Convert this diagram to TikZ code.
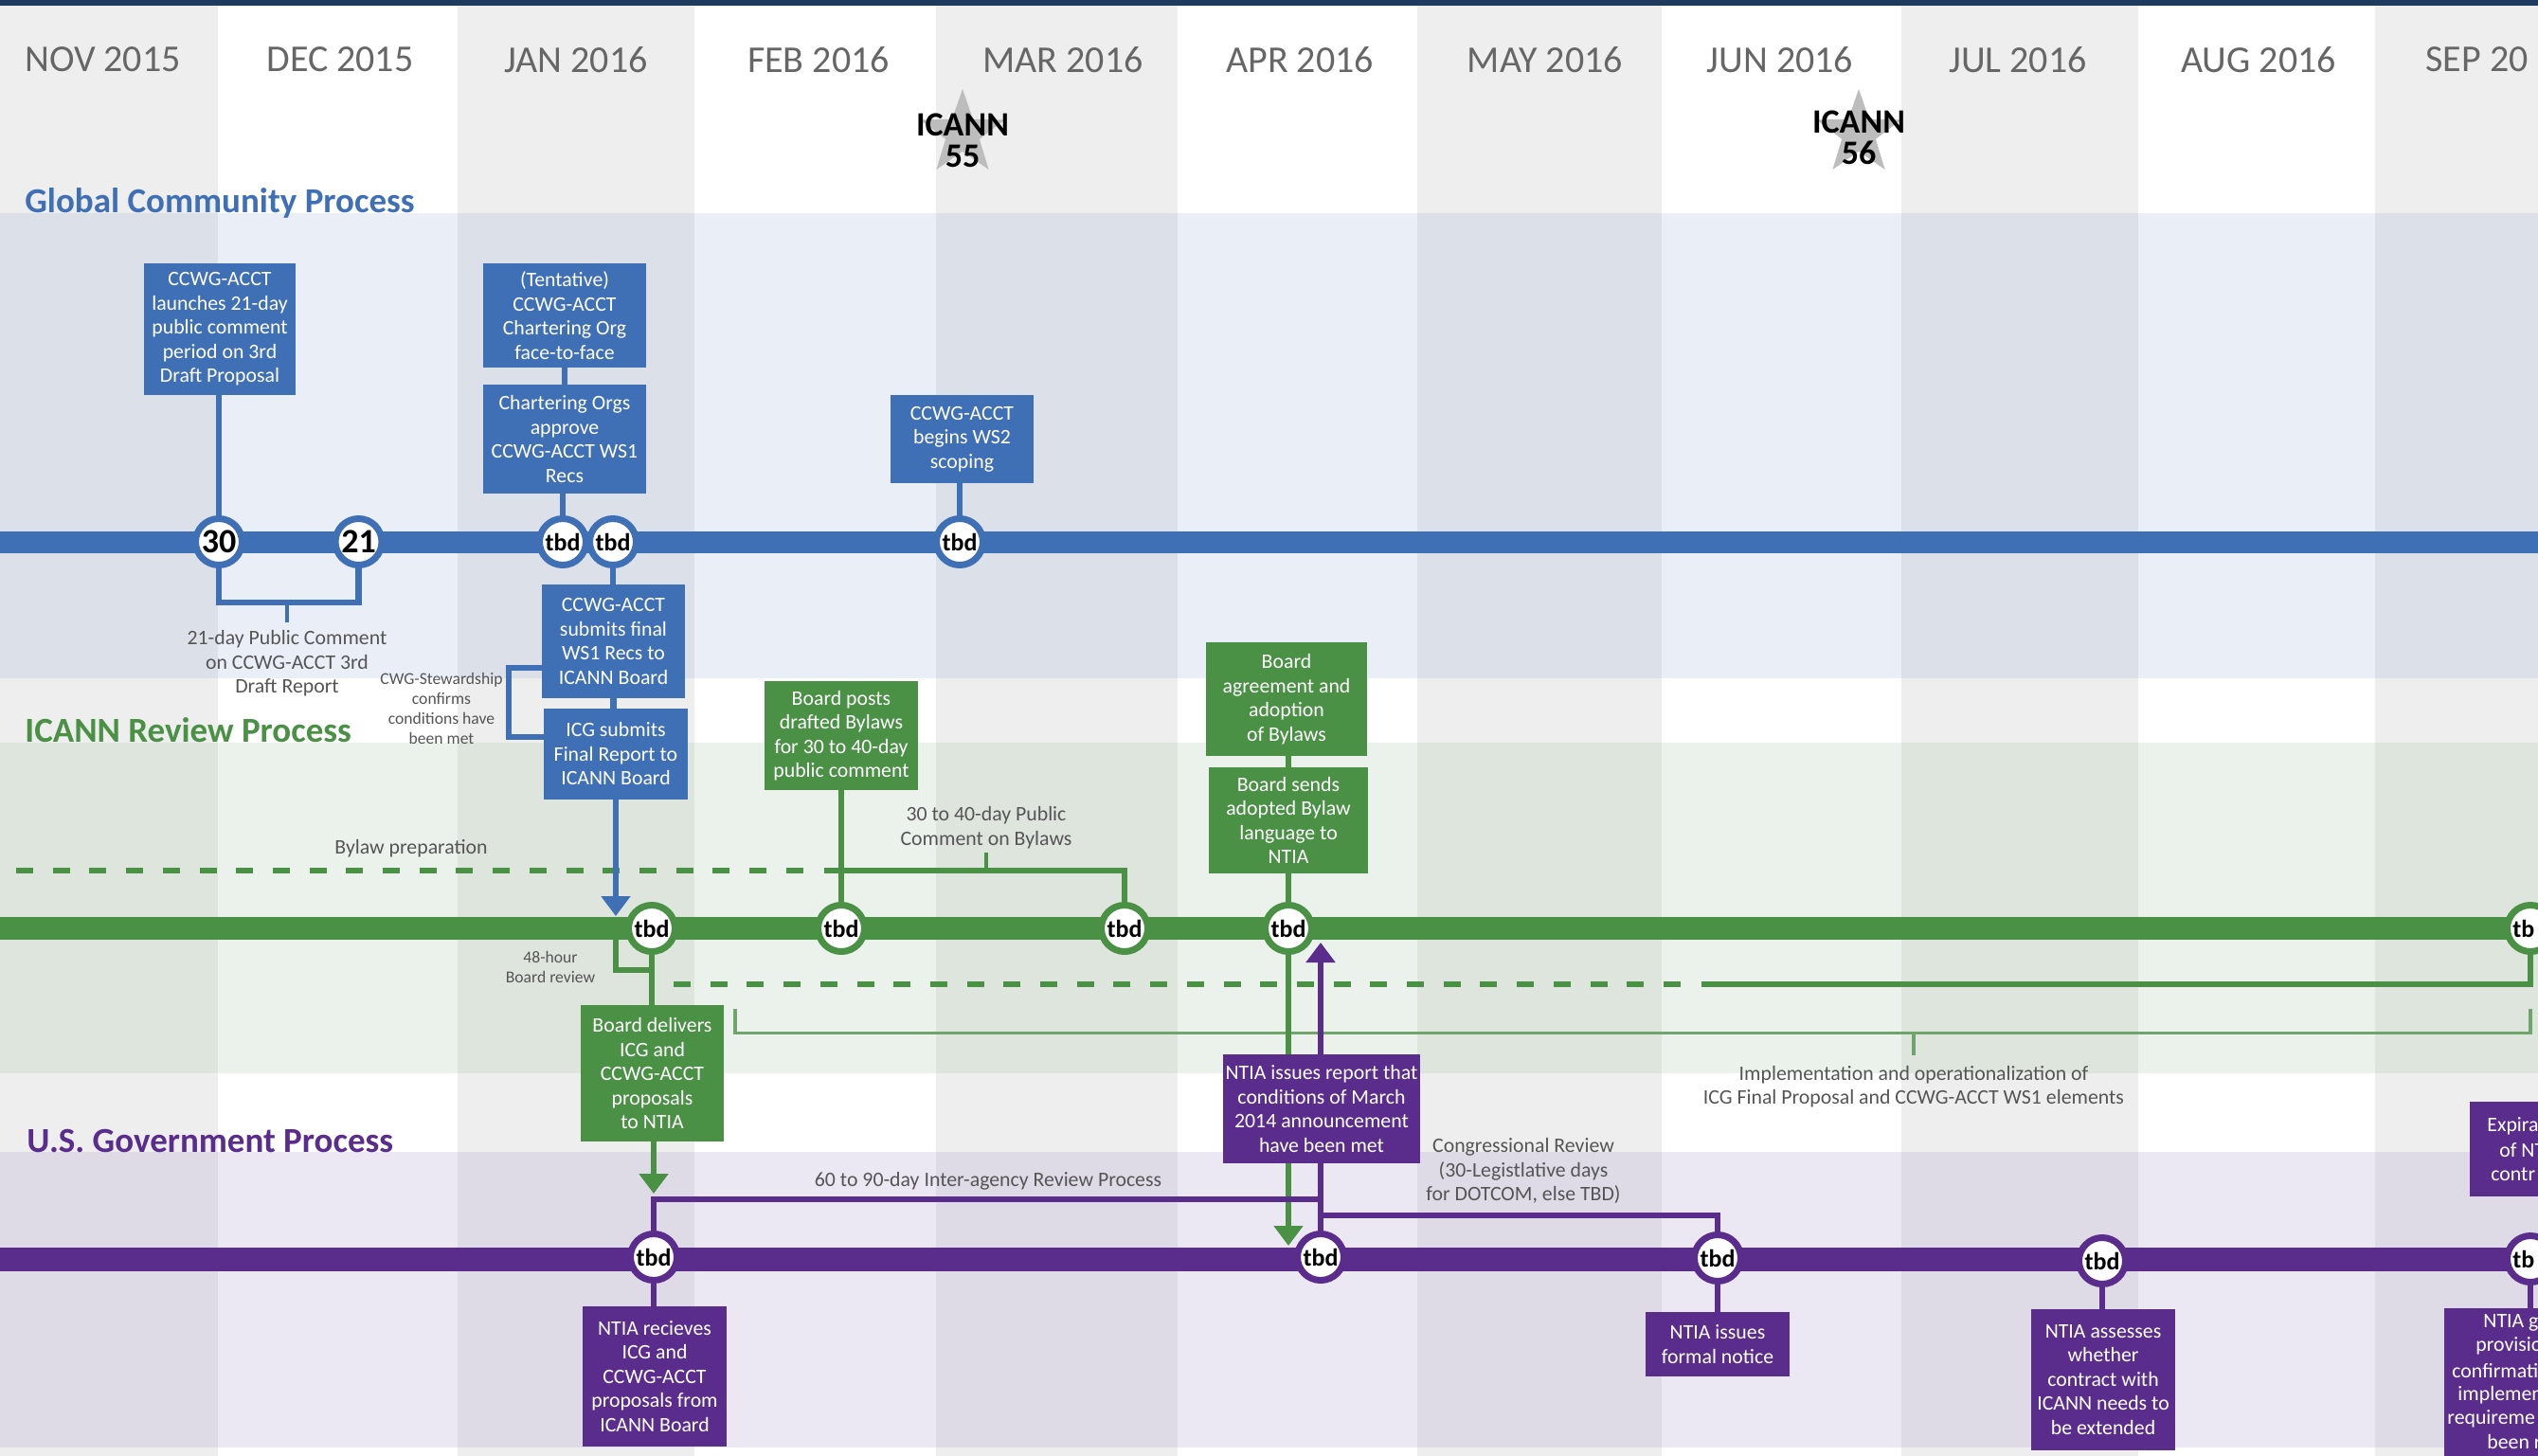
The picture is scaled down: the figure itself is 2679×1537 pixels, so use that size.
\documentclass[tikz,border=0pt]{standalone}
\usepackage{fontspec}
\setmainfont{Carlito}
\usetikzlibrary{arrows.meta,shapes.geometric,calc}
\pgfdeclarelayer{back}
\pgfdeclarelayer{conn}
\pgfsetlayers{back,conn,main}
\definecolor{cblue}{HTML}{3F6FB5}
\definecolor{cgreen}{HTML}{4A9045}
\definecolor{cpurple}{HTML}{5A2D8C}
\definecolor{cnavy}{HTML}{1F3A5F}
\definecolor{topgrey}{HTML}{EEEEEE}
\definecolor{bluew}{HTML}{E9EEF7}
\definecolor{blueg}{HTML}{DCE0E9}
\definecolor{greenw}{HTML}{EAF2EB}
\definecolor{greeng}{HTML}{DEE5DD}
\definecolor{purplew}{HTML}{ECE8F3}
\definecolor{purpleg}{HTML}{DEDBE6}
\definecolor{labelc}{HTML}{555555}
\definecolor{monthc}{HTML}{666666}
\definecolor{thingreen}{HTML}{6FA56B}
\tikzset{
  tl/.style={circle,draw=#1,fill=white,line width=3.5pt,minimum size=24.5pt,inner sep=0pt,outer sep=0pt,text=black,font=\bfseries\fontsize{13}{13}\selectfont},
  tlbig/.style={tl=#1,font=\bfseries\fontsize{18}{18}\selectfont},
  tltrim/.style={anchor=west,inner sep=0pt,text=black,font=\bfseries\fontsize{13}{13}\selectfont},
  boxn/.style={rectangle,fill=#1,inner sep=0pt,outer sep=0pt,align=center,text=white,font=\fontsize{10.9}{12.75}\selectfont},
  boxtrim/.style={anchor=west,inner sep=0pt,text=white,font=\fontsize{10.9}{12.75}\selectfont},
  lab/.style={align=center,inner sep=0pt,text=labelc,font=\fontsize{10.9}{12.75}\selectfont},
  labs/.style={align=center,inner sep=0pt,text=labelc,font=\fontsize{8.8}{10.5}\selectfont},
  month/.style={inner sep=0pt,text=monthc,font=\fontsize{20}{20}\selectfont},
  head/.style={anchor=west,inner sep=0pt,text=#1,font=\bfseries\fontsize{18.5}{18.5}\selectfont},
  mainline/.style={draw=#1,line width=11.5pt},
  conn/.style={draw=#1,line width=3.2pt},
  thin/.style={draw=#1,line width=1.6pt},
  dashgreen/.style={draw=cgreen,line width=3.4pt,dash pattern=on 9pt off 10.35pt},
  arr/.style={-{Triangle[width=15pt,length=10.5pt]}},
  icanntxt/.style={align=center,inner sep=0pt,text=black,font=\bfseries\fontsize{18}{16.5}\selectfont},
  icstar/.style={star,star points=5,star point ratio=2.5,fill=black!26,minimum size=47pt,inner sep=0pt,outer sep=0pt},
}
\newcommand{\Bx}[7]{%
  \pgfmathsetmacro{\bw}{(#5-#3)*0.5}%
  \pgfmathsetmacro{\bh}{(#6-#4)*0.5}%
  \node[boxn=#2,minimum width=\bw pt,minimum height=\bh pt] (#1) at ({(#3+#5)/2},{(#4+#6)/2}) {#7};%
}
\begin{document}
\begin{tikzpicture}[x=0.5pt,y=-0.5pt]
\useasboundingbox (0,0) rectangle (2679,1537);
\clip (0,0) rectangle (2679,1537);
\begin{pgfonlayer}{back}
  \fill[white] (0,0) rectangle (2679,1537);
  \fill[bluew] (0,225) rectangle (2679,716);
  \fill[greenw] (0,784) rectangle (2679,1133);
  \fill[purplew] (0,1216) rectangle (2679,1528);
  \foreach \a/\b in {0/230,483/733,988/1243,1496/1754,2007/2257,2507/2679}{
    \fill[topgrey] (\a,0) rectangle (\b,1537);
    \fill[blueg] (\a,225) rectangle (\b,716);
    \fill[greeng] (\a,784) rectangle (\b,1133);
    \fill[purpleg] (\a,1216) rectangle (\b,1528);
  }
  \fill[cnavy] (0,0) rectangle (2679,6);
\end{pgfonlayer}

% month labels
\node[month] (mnov) at (108.5,63) {NOV 2015};
\node[month] (mdec) at (359,63) {DEC 2015};
\node[month] (mjan) at (608,63) {JAN 2016};
\node[month] (mfeb) at (864,63) {FEB 2016};
\node[month] (mmar) at (1122,63) {MAR 2016};
\node[month] (mapr) at (1372,63) {APR 2016};
\node[month] (mmay) at (1631,63) {MAY 2016};
\node[month] (mjun) at (1879,63) {JUN 2016};
\node[month] (mjul) at (2130,63) {JUL 2016};
\node[month] (maug) at (2384,63) {AUG 2016};
\node[month,anchor=west] (msep) at (2560,63) {SEP 20};

% stars
\node[icstar] (s55) at (1016,141) {};
\node[icstar] (s56) at (1962,141) {};
\node[icanntxt] (t55) at (1016,148) {ICANN\\55};
\node[icanntxt] (t56) at (1962,145) {ICANN\\56};

% headings
\node[head=cblue] (hglobal) at (26,214) {Global Community Process};
\node[head=cgreen] (hicann) at (26,771) {ICANN Review Process};
\node[head=cpurple] (husg) at (28,1204) {U.S. Government Process};

% blue boxes
\Bx{b1}{cblue}{152}{278}{312}{417}{CCWG-ACCT\\launches 21-day\\public comment\\period on 3rd\\Draft Proposal}
\Bx{b2}{cblue}{510}{278}{682}{388}{(Tentative)\\CCWG-ACCT\\Chartering Org\\face-to-face}
\Bx{b3}{cblue}{510}{406}{682}{521}{Chartering Orgs\\approve\\CCWG-ACCT WS1\\Recs}
\Bx{b4}{cblue}{940}{417}{1091}{510}{CCWG-ACCT\\begins WS2\\scoping}
\Bx{b5}{cblue}{572}{617}{723}{737}{CCWG-ACCT\\submits final\\WS1 Recs to\\ICANN Board}
\Bx{b6}{cblue}{574}{748}{726}{844}{ICG submits\\Final Report to\\ICANN Board}

% green boxes
\Bx{g1}{cgreen}{807}{719}{969}{834}{Board posts\\drafted Bylaws\\for 30 to 40-day\\public comment}
\Bx{g2}{cgreen}{1273}{678}{1443}{798}{Board\\agreement and\\adoption\\of Bylaws}
\Bx{g3}{cgreen}{1276}{810}{1444}{922}{Board sends\\adopted Bylaw\\language to\\NTIA}
\Bx{g4}{cgreen}{613}{1061}{764}{1205}{Board delivers\\ICG and\\CCWG-ACCT\\proposals\\to NTIA}

% purple boxes
\Bx{p1}{cpurple}{615}{1379}{767}{1527}{NTIA recieves\\ICG and\\CCWG-ACCT\\proposals from\\ICANN Board}
\Bx{p2}{cpurple}{1291}{1113}{1499}{1228}{NTIA issues report that\\conditions of March\\2014 announcement\\have been met}
\Bx{p3}{cpurple}{1737}{1385}{1889}{1453}{NTIA issues\\formal notice}
\Bx{p4}{cpurple}{2144}{1382}{2296}{1531}{NTIA assesses\\whether\\contract with\\ICANN needs to\\be extended}
\Bx{p5}{cpurple}{2607}{1163}{2679}{1263}{}
\Bx{p6}{cpurple}{2580}{1381}{2679}{1537}{}
\node[boxtrim] (p5a) at (2625,1189) {Expira};
\node[boxtrim] (p5b) at (2638,1214) {of NT};
\node[boxtrim] (p5c) at (2629,1240) {contr};
\node[boxtrim] (p6a) at (2621,1396) {NTIA g};
\node[boxtrim] (p6b) at (2613,1421) {provisio};
\node[boxtrim] (p6c) at (2588,1447) {confirmati};
\node[boxtrim] (p6d) at (2594,1473) {implemen};
\node[boxtrim] (p6e) at (2583,1497.5) {requireme};
\node[boxtrim] (p6f) at (2625,1522) {been r};

% timeline circles
\node[tlbig=cblue] (c30) at (231,572) {30};
\node[tlbig=cblue] (c21) at (378.5,572) {21};
\node[tl=cblue] (ct1) at (594,572) {tbd};
\node[tl=cblue] (ct2) at (647,572) {tbd};
\node[tl=cblue] (ct3) at (1013,572) {tbd};
\node[tl=cgreen] (gt1) at (688,980) {tbd};
\node[tl=cgreen] (gt2) at (888,980) {tbd};
\node[tl=cgreen] (gt3) at (1187,980) {tbd};
\node[tl=cgreen] (gt4) at (1360,980) {tbd};
\node[tl=cpurple] (pt1) at (690,1327) {tbd};
\node[tl=cpurple] (pt2) at (1394,1327) {tbd};
\node[tl=cpurple] (pt3) at (1813,1328) {tbd};
\node[tl=cpurple] (pt4) at (2219,1331) {tbd};
% the two circles that run off the right edge
\node[tl=cgreen] (gt5) at (2671,980) {};
\node[tl=cpurple] (pt5) at (2671,1329) {};
\node[tltrim] (gt5t) at (2652,980) {tb};
\node[tltrim] (pt5t) at (2652,1329) {tb};

% labels
\node[lab] (l21) at (303,700.5) {21-day Public Comment\\on CCWG-ACCT 3rd\\Draft Report};
\node[labs] (lcwg) at (466,748) {CWG-Stewardship\\confirms\\conditions have\\been met};
\node[lab] (lby) at (434,896) {Bylaw preparation};
\node[lab] (l30) at (1041,873.5) {30 to 40-day Public\\Comment on Bylaws};
\node[labs] (l48) at (581,1021) {48-hour\\Board review};
\node[lab] (l60) at (1043,1247) {60 to 90-day Inter-agency Review Process};
\node[lab] (lcong) at (1608,1236) {Congressional Review\\(30-Legistlative days\\for DOTCOM, else TBD)};
\node[lab] (limp) at (2020,1147) {Implementation and operationalization of\\ICG Final Proposal and CCWG-ACCT WS1 elements};

% free coordinates
\coordinate (bl) at (0,572);
\coordinate (br) at (2679,572);
\coordinate (gl) at (0,980);
\coordinate (gr) at (2679,980);
\coordinate (vl) at (0,1329);
\coordinate (vr) at (2679,1329);
\coordinate (brk) at (0,636);
\coordinate (tick1) at (303,657);
\coordinate (tick1b) at (303,636);
\coordinate (bracl) at (537,705);
\coordinate (bracb) at (537,778);
\coordinate (arrb) at (650,967);
\coordinate (ds1a) at (17,919);
\coordinate (ds1b) at (850,919);
\coordinate (sl1) at (870,919);
\coordinate (tick2a) at (1041,919);
\coordinate (tick2b) at (1041,900);
\coordinate (revs) at (650,992);
\coordinate (revc) at (650,1024);
\coordinate (ds2a) at (711,1039);
\coordinate (ds2b) at (1774,1039);
\coordinate (sl2) at (1796,1039);
\coordinate (impa) at (776,1065);
\coordinate (impb) at (776,1090.5);
\coordinate (impc) at (2671,1090.5);
\coordinate (impd) at (2671,1065);
\coordinate (tick3a) at (2020,1090.5);
\coordinate (tick3b) at (2020,1114);
\coordinate (arrg) at (690,1260);
\coordinate (arrg2) at (1360,1315);
\coordinate (arrp) at (1394,995);
\coordinate (iar) at (0,1266);
\coordinate (cong) at (0,1283);

\begin{pgfonlayer}{conn}
  % main timelines
  \draw[mainline=cblue] (bl) -- (br);
  \draw[mainline=cgreen,line width=12pt] (gl) -- (gr);
  \draw[mainline=cpurple,line width=12.5pt] (vl) -- (vr);

  % green
  \draw[dashgreen] (ds1a) -- (ds1b);
  \draw[conn=cgreen] (sl1) -- (sl1 -| gt3) -- (gt3);
  \draw[conn=cgreen] (g1.south -| gt2) -- (gt2);
  \draw[conn=cgreen,line width=1.6pt] (tick2a) -- (tick2b);
  \draw[conn=cgreen] (revs) -- (revc) -- (revc -| gt1);
  \draw[conn=cgreen] (gt1) -- (g4.north -| gt1);
  \draw[dashgreen] (ds2a) -- (ds2b);
  \draw[conn=cgreen] (sl2) -- (sl2 -| gt5) -- (gt5);
  \draw[thin=thingreen] (impa) -- (impb) -- (impc) -- (impd);
  \draw[thin=thingreen] (tick3a) -- (tick3b);
  \draw[conn=cgreen] (g2.south -| gt4) -- (g3.north -| gt4);
  \draw[conn=cgreen] (g3.south -| gt4) -- (gt4);
  \draw[conn=cgreen,arr] (g4.south -| arrg) -- (arrg);
  \draw[conn=cgreen,arr] (gt4) -- (arrg2);

  % blue
  \draw[conn=cblue] (b1.south -| c30) -- (c30);
  \draw[conn=cblue,line join=miter] (c30) -- (c30 |- brk) -- (c21 |- brk) -- (c21);
  \draw[conn=cblue,line width=1.6pt] (tick1b) -- (tick1);
  \draw[conn=cblue] (b2.south) -- (b3.north);
  \draw[conn=cblue] (b3.south -| ct1) -- (ct1);
  \draw[conn=cblue] (b4.south -| ct3) -- (ct3);
  \draw[conn=cblue] (ct2) -- (b5.north -| ct2);
  \draw[conn=cblue] (b5.south) -- (b6.north -| b5.south);
  \draw[conn=cblue] (bracl -| b5.west) -- (bracl) -- (bracb) -- (bracb -| b6.west);
  \draw[conn=cblue,arr] (b6.south -| arrb) -- (arrb);

  % purple
  \draw[conn=cpurple] (pt1) -- (pt1 |- iar) -- (iar -| pt2);
  \draw[conn=cpurple] (p2.south -| pt2) -- (pt2);
  \draw[conn=cpurple] (pt2 |- cong) -- (cong -| pt3) -- (pt3);
  \draw[conn=cpurple,arr] (p2.north -| arrp) -- (arrp);
  \draw[conn=cpurple] (pt1) -- (p1.north -| pt1);
  \draw[conn=cpurple] (pt3) -- (p3.north -| pt3);
  \draw[conn=cpurple] (pt4) -- (p4.north -| pt4);
  \draw[conn=cpurple] (pt5) -- (p6.north -| pt5);
\end{pgfonlayer}
\end{tikzpicture}
\end{document}
